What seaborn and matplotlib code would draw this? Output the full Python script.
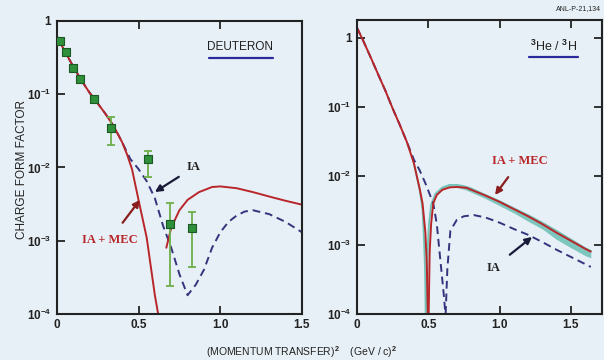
import matplotlib
matplotlib.use("Agg")
import matplotlib.pyplot as plt
import seaborn as sns
import numpy as np
import pandas as pd

# DATA
# deuteron measurements
d_q2 = [0.018, 0.055, 0.10, 0.145, 0.23, 0.33, 0.56, 0.69, 0.83]
d_ff = [0.53, 0.38, 0.23, 0.16, 0.085, 0.034, 0.013, 0.0017, 0.0015]
d_err_lo = [0.0, 0.0, 0.0, 0.0, 0.0, 0.014, 0.0057, 0.00146, 0.00106]
d_err_hi = [0.0, 0.0, 0.0, 0.0, 0.0, 0.014, 0.004, 0.0016, 0.001]

# deuteron IA + MEC (two branches either side of the zero)
d_mec1_q2 = [0.0, 0.05, 0.10, 0.15, 0.20, 0.25, 0.30, 0.35, 0.40, 0.43, 0.46, 0.50, 0.55, 0.60, 0.62]
d_mec1_ff = [0.62, 0.38, 0.24, 0.155, 0.105, 0.075, 0.053, 0.036, 0.022, 0.015, 0.0095, 0.0036, 0.0011, 0.00018, 0.0001]
d_mec2_q2 = [0.67, 0.70, 0.75, 0.80, 0.87, 0.95, 1.0, 1.1, 1.2, 1.3, 1.4, 1.5]
d_mec2_ff = [0.0008, 0.0015, 0.0026, 0.0036, 0.0046, 0.0054, 0.0055, 0.0052, 0.0046, 0.0040, 0.0035, 0.0031]

# deuteron IA
d_ia_q2 = [0.0, 0.05, 0.10, 0.15, 0.20, 0.25, 0.30, 0.35, 0.40, 0.45, 0.50, 0.55, 0.60, 0.65, 0.70,
           0.75, 0.80, 0.85, 0.90, 0.95, 1.0, 1.05, 1.1, 1.15, 1.2, 1.3, 1.4, 1.5]
d_ia_ff = [0.62, 0.38, 0.24, 0.155, 0.105, 0.075, 0.053, 0.036, 0.022, 0.013, 0.0095, 0.0065, 0.0038, 0.0016, 0.0008,
           0.00035, 0.00018, 0.00025, 0.0004, 0.0008, 0.0013, 0.0018, 0.0022, 0.0025, 0.0026, 0.0023, 0.0018, 0.0013]

# 3He / 3H IA + MEC
h_mec1_q2 = [0.0, 0.05, 0.10, 0.15, 0.20, 0.25, 0.30, 0.35, 0.40, 0.44, 0.46, 0.48, 0.49, 0.497]
h_mec1_ff = [1.4, 0.85, 0.5, 0.29, 0.17, 0.095, 0.055, 0.031, 0.015, 0.0065, 0.004, 0.0015, 0.0005, 0.0001]
h_mec2_q2 = [0.503, 0.51, 0.52, 0.535, 0.56, 0.60, 0.65, 0.70, 0.77, 0.80, 0.90, 1.0, 1.1, 1.2, 1.3, 1.4, 1.5, 1.6, 1.64]
h_mec2_ff = [0.0001, 0.0008, 0.002, 0.004, 0.0053, 0.0063, 0.0068, 0.0069, 0.0067, 0.0063, 0.0052, 0.0042,
             0.0033, 0.0026, 0.0020, 0.0015, 0.00115, 0.00088, 0.0008]

# 3He / 3H uncertainty band
h_band_q2 = [0.487, 0.495, 0.505, 0.52, 0.55, 0.60, 0.65, 0.70, 0.75, 0.80, 0.90, 1.0, 1.1, 1.2, 1.3, 1.4, 1.5, 1.6, 1.64]
h_band_hi = [0.0001, 0.0008, 0.002, 0.0038, 0.0055, 0.0068, 0.0074, 0.0074, 0.0071, 0.0066, 0.0053, 0.0043,
             0.0034, 0.0027, 0.0021, 0.0016, 0.0012, 0.0009, 0.00082]
h_band_lo = [0.0001, 0.0008, 0.002, 0.0038, 0.0055, 0.0066, 0.0070, 0.0068, 0.0064, 0.0058, 0.0047, 0.0037,
             0.0029, 0.0022, 0.0017, 0.0012, 0.00091, 0.0007, 0.00065]
h_band1_q2 = [0.40, 0.44, 0.46, 0.47, 0.478, 0.482]
h_band1_ff = [0.015, 0.0062, 0.0032, 0.0012, 0.0004, 0.0001]

# 3He / 3H IA
h_ia1_q2 = [0.0, 0.05, 0.10, 0.15, 0.20, 0.25, 0.30, 0.35, 0.40, 0.44, 0.48, 0.535, 0.56, 0.585, 0.61, 0.62]
h_ia1_ff = [1.4, 0.85, 0.5, 0.29, 0.17, 0.095, 0.055, 0.031, 0.017, 0.012, 0.0078, 0.004, 0.002, 0.0006, 0.00018, 0.0001]
h_ia2_q2 = [0.622, 0.634, 0.655, 0.70, 0.75, 0.82, 0.90, 1.0, 1.1, 1.2, 1.3, 1.4, 1.5, 1.64]
h_ia2_ff = [0.0001, 0.00045, 0.0016, 0.0023, 0.0026, 0.0027, 0.0025, 0.0021, 0.0017, 0.0014, 0.0011, 0.00085, 0.00067, 0.00048]

y_ticks = [1, 1e-1, 1e-2, 1e-3, 1e-4]
y_tick_labels = ["1", r"$10^{-1}$", r"$10^{-2}$", r"$10^{-3}$", r"$10^{-4}$"]
x_ticks = [0, 0.5, 1.0, 1.5]
x_tick_labels = ["0", "0.5", "1.0", "1.5"]

# STYLE
BG = "#e7f0f6"
RED = "#b8262a"
NAVY = "#34347e"
TEAL = "#72c2b8"
DASH = (0, (4, 2.5))

sns.set_theme(style="ticks")
plt.rcParams["font.family"] = ["Liberation Sans", "DejaVu Sans"]
plt.rcParams["mathtext.fontset"] = "custom"
plt.rcParams["mathtext.rm"] = "Liberation Sans:bold"
plt.rcParams["mathtext.it"] = "Liberation Sans:bold"
plt.rcParams["mathtext.bf"] = "Liberation Sans:bold"

fig = plt.figure(figsize=(6.04, 3.6), dpi=100, facecolor=BG)
ax1 = fig.add_axes([0.094, 0.128, 0.406, 0.814])
ax2 = fig.add_axes([0.591, 0.128, 0.406, 0.816])

ANNOT = dict(family=["Liberation Serif", "DejaVu Serif"], fontweight="bold", fontsize=9)


def style_axes(ax, xmax, ymax, right_ticks):
    ax.set_facecolor(BG)
    ax.set_yscale("log")
    ax.set_xlim(0, xmax)
    ax.set_ylim(1e-4, ymax)
    ax.set_xticks(x_ticks, x_tick_labels, fontweight="bold")
    ax.set_yticks(y_ticks, y_tick_labels, fontweight="bold")
    ax.minorticks_off()
    ax.tick_params(direction="in", length=6, width=1.3, colors="#222222", labelsize=8.5,
                   top=True, right=right_ticks, pad=4)
    for s in ax.spines.values():
        s.set_visible(True)
        s.set_linewidth(1.5)
        s.set_color("#222222")
    ax.set_xlabel("")
    ax.set_ylabel("")


# ---- deuteron panel
sns.lineplot(x=d_ia_q2, y=d_ia_ff, ax=ax1, color=NAVY, lw=1.4, sort=False, linestyle=DASH)
sns.lineplot(x=d_mec1_q2, y=d_mec1_ff, ax=ax1, color=RED, lw=1.4, sort=False)
sns.lineplot(x=d_mec2_q2, y=d_mec2_ff, ax=ax1, color=RED, lw=1.4, sort=False)
ax1.errorbar(d_q2, d_ff, yerr=[d_err_lo, d_err_hi], fmt="none", ecolor="#6fae4a",
             elinewidth=1.3, capsize=3, capthick=1.3, zorder=4)
sns.scatterplot(x=d_q2, y=d_ff, ax=ax1, marker="s", s=40, color="#2f8f3a",
                edgecolor="#1c5a24", linewidth=0.8, zorder=5)
style_axes(ax1, 1.5, 1.0, False)

ax1.text(0.747, 0.89, "DEUTERON", transform=ax1.transAxes, ha="center", va="bottom",
         fontsize=8.5, color="#222222")
ax1.plot([0.62, 0.88], [0.875, 0.875], transform=ax1.transAxes, color="#2a2a9a", lw=1.6)
ax1.annotate("IA", xy=(0.40, 0.416), xytext=(0.53, 0.50), textcoords="axes fraction",
             xycoords="axes fraction", color="#222222", ha="left", va="center",
             arrowprops=dict(arrowstyle="-|>", color="#1a1a3a", lw=1.6, mutation_scale=10,
                             shrinkA=4, shrinkB=0), **ANNOT)
ax1.annotate("IA + MEC", xy=(0.339, 0.389), xytext=(0.216, 0.253), textcoords="axes fraction",
             xycoords="axes fraction", color=RED, ha="center", va="center",
             arrowprops=dict(arrowstyle="-|>", color="#8a1e1e", lw=1.6, mutation_scale=10,
                             shrinkA=7, shrinkB=0), **ANNOT)

# ---- 3He / 3H panel
ax2.fill_between(h_band_q2, h_band_lo, h_band_hi, color=TEAL, lw=0, alpha=0.9)
sns.lineplot(x=h_band_q2, y=h_band_hi, ax=ax2, color=TEAL, lw=1.3, sort=False)
sns.lineplot(x=h_band1_q2, y=h_band1_ff, ax=ax2, color=TEAL, lw=1.3, sort=False)
sns.lineplot(x=h_ia1_q2, y=h_ia1_ff, ax=ax2, color=NAVY, lw=1.4, sort=False, linestyle=DASH)
sns.lineplot(x=h_ia2_q2, y=h_ia2_ff, ax=ax2, color=NAVY, lw=1.4, sort=False, linestyle=DASH)
sns.lineplot(x=h_mec1_q2, y=h_mec1_ff, ax=ax2, color=RED, lw=1.4, sort=False)
sns.lineplot(x=h_mec2_q2, y=h_mec2_ff, ax=ax2, color=RED, lw=1.4, sort=False)
style_axes(ax2, 1.72, 1.8, True)

ax2.text(0.80, 0.885, r"$^{3}$He / $^{3}$H", transform=ax2.transAxes, ha="center", va="bottom",
         fontsize=9, color="#222222")
ax2.plot([0.70, 0.90], [0.874, 0.874], transform=ax2.transAxes, color="#2a2a9a", lw=1.6)
ax2.annotate("IA + MEC", xy=(0.563, 0.405), xytext=(0.665, 0.52), textcoords="axes fraction",
             xycoords="axes fraction", color=RED, ha="center", va="center",
             arrowprops=dict(arrowstyle="-|>", color="#8a1e1e", lw=1.6, mutation_scale=10,
                             shrinkA=6, shrinkB=0), **ANNOT)
ax2.annotate("IA", xy=(0.714, 0.262), xytext=(0.555, 0.156), textcoords="axes fraction",
             xycoords="axes fraction", color="#222222", ha="center", va="center",
             arrowprops=dict(arrowstyle="-|>", color="#1a1a3a", lw=1.6, mutation_scale=10,
                             shrinkA=6, shrinkB=0), **ANNOT)

# shared labels
fig.text(0.036, 0.53, "CHARGE FORM FACTOR", rotation=90, ha="center", va="center",
         fontsize=8.5, color="#222222")
fig.text(0.5, 0.022, r"(MOMENTUM TRANSFER)$^{2}$    (GeV / c)$^{2}$", ha="center", va="center",
         fontsize=7.5, color="#222222")
fig.text(0.957, 0.975, "ANL-P-21,134", ha="center", va="center", fontsize=5, color="#222222")

fig.savefig("out.png", dpi=100, facecolor=BG)
